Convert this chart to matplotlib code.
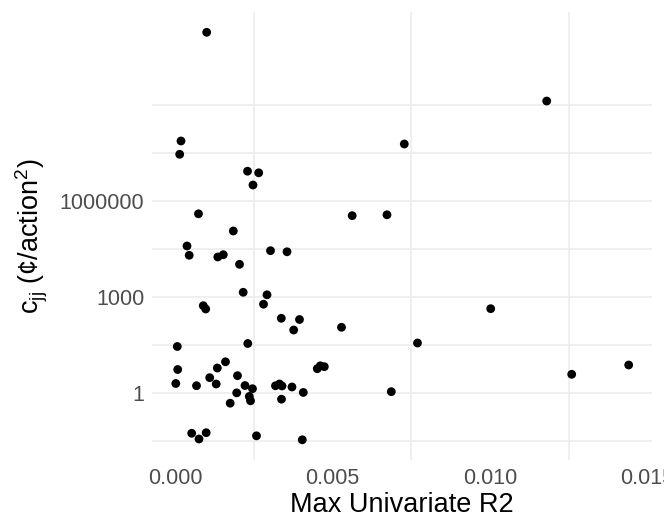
import matplotlib
matplotlib.use("Agg")
import matplotlib.pyplot as plt
import numpy as np

# Max univariate R2 for each point
max_r2 = [0.001006, 0.011800, 0.007279, 0.000190, 0.000149, 0.002302, 0.002657,
          0.002476, 0.000746, 0.005625, 0.006730, 0.001851, 0.000381, 0.000451,
          0.001359, 0.001533, 0.003032, 0.003556, 0.002048, 0.002165, 0.002921,
          0.002810, 0.000898, 0.000975, 0.003375, 0.003952, 0.003768, 0.005286,
          0.010022, 0.000073, 0.002311, 0.007698, 0.000086, 0.000025, 0.000683,
          0.001102, 0.001308, 0.001343, 0.001603, 0.001984, 0.002222, 0.002460,
          0.001959, 0.001752, 0.002359, 0.002397, 0.003190, 0.003317, 0.003397,
          0.003714, 0.004073, 0.003381, 0.004517, 0.004613, 0.004740, 0.006867,
          0.012594, 0.014403, 0.000530, 0.000762, 0.000990, 0.002587, 0.004041]

# c_jj values (cents / action^2)
c_jj = [1.87e11, 1.33e9, 6.04e7, 7.5e7, 2.88e7, 8.53e6, 7.60e6,
        3.16e6, 3.98e5, 3.48e5, 3.71e5, 1.155e5, 3.93e4, 2.01e4,
        1.78e4, 2.10e4, 2.80e4, 2.59e4, 1.05e4, 1403, 1172,
        596, 535, 422, 216, 198, 93, 113,
        431, 28.4, 35.2, 36.5, 5.42, 1.98, 1.69,
        3.01, 1.91, 6.04, 9.44, 3.48, 1.71, 1.36,
        1.01, 0.48, 0.78, 0.57, 1.68, 1.91, 1.66,
        1.54, 1.04, 0.64, 5.74, 7.08, 6.64, 1.10,
        3.84, 7.50, 0.0551, 0.0365, 0.0574, 0.0459, 0.0345]

x_ticks = [0.000, 0.005, 0.010, 0.015]
x_tick_labels = ["0.000", "0.005", "0.010", "0.015"]
y_ticks = [1, 1000, 1000000]
y_tick_labels = ["1", "1000", "1000000"]

plt.rcParams['font.family'] = ['Liberation Sans', 'DejaVu Sans']
plt.rcParams['mathtext.fontset'] = 'custom'
plt.rcParams['mathtext.rm'] = 'Liberation Sans'
plt.rcParams['mathtext.it'] = 'Liberation Sans'

fig = plt.figure(figsize=(6.64, 5.16), dpi=100)
ax = fig.add_axes([152/664, 56/516, 500/664, 448/516])

grid_col = '#ebebeb'
for gx in [0.0025, 0.0075, 0.0125]:
    ax.axvline(gx, color=grid_col, lw=1.1, zorder=0)
for e in [-1.5, 0, 1.5, 3, 4.5, 6, 7.5, 9]:
    ax.axhline(10**e, color=grid_col, lw=1.1, zorder=0)

ax.scatter(max_r2, c_jj, s=40, color='black', edgecolors='none', zorder=3)

ax.set_yscale('log')
ax.set_xlim(-0.00073, 0.015143)
ax.set_ylim(10**-2.094, 10**11.906)

ax.set_xticks(x_ticks)
ax.set_xticklabels(x_tick_labels)
ax.set_yticks(y_ticks)
ax.set_yticklabels(y_tick_labels)
ax.minorticks_off()
ax.tick_params(length=0, labelsize=15.5, labelcolor='#4d4d4d')
ax.tick_params(axis='x', pad=6)
ax.tick_params(axis='y', pad=5.5)

for s in ax.spines.values():
    s.set_visible(False)

ax.set_xlabel("Max Univariate R2", fontsize=19.5, color='black', labelpad=2)
ax.set_ylabel(r"c$_{\mathrm{jj}}$ (¢/action$^{\mathrm{2}}$)", fontsize=19.5,
              color='black', labelpad=7)

fig.savefig("out.png", dpi=100)
